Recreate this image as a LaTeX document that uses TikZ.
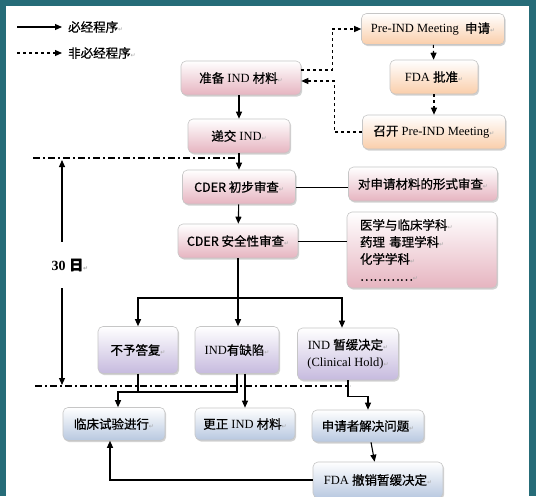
\documentclass[tikz,border=0pt]{standalone}
\usepackage{fontspec}
\setmainfont{Liberation Serif}
\newfontfamily\cjk{Noto Sans CJK SC}[FakeBold=0.8]
\newfontfamily\cjkb{Noto Sans CJK SC}[FakeBold=2]
\newfontfamily\dejavu{DejaVu Sans}
\usetikzlibrary{arrows.meta,shadows,calc}
\definecolor{frameteal}{RGB}{38,108,120}
\definecolor{pinkbot}{RGB}{230,180,192}
\definecolor{peachbot}{RGB}{250,206,170}
\definecolor{lilacbot}{RGB}{198,186,222}
\definecolor{bluebot}{RGB}{184,200,224}
\newcommand{\zh}[1]{{\cjk #1}}
\newcommand{\retmark}{{\dejavu\fontsize{6}{6}\selectfont\color{gray!70}↵}}
\tikzset{
  flow/.style={rounded corners=5pt,draw=gray!45,line width=0.6pt,
               minimum height=34pt,inner sep=2pt,align=center,
               font=\fontsize{12.5}{17}\selectfont,
               drop shadow={shadow xshift=1.2pt,shadow yshift=-1.6pt,opacity=0.35,fill=gray}},
  pinkbox/.style={flow,top color=white,bottom color=pinkbot},
  peachbox/.style={flow,top color=white,bottom color=peachbot},
  lilacbox/.style={flow,top color=white,bottom color=lilacbot},
  bluebox/.style={flow,top color=white,bottom color=bluebot},
  arr/.style={-{Triangle[length=7pt,width=6pt]},line width=1.1pt},
  darr/.style={arr,dashed},
  sepline/.style={line width=1.2pt,dash pattern=on 7pt off 3pt on 2pt off 3pt},
  legendtext/.style={anchor=west,inner xsep=6pt,font=\fontsize{12.5}{14}\selectfont},
}

\begin{document}
\begin{tikzpicture}[x=1pt,y=-1pt]
  \useasboundingbox (0,0) rectangle (536,496);
  % frame
  \fill[frameteal] (0,0) rectangle (536,496);
  \fill[white] (6,6) rectangle (529,500);

  % legend
  \coordinate (lg1) at (17,27);
  \coordinate (lg2) at (17,53);
  \node[legendtext] (must) at (62,27) {\zh{必经程序}\retmark};
  \node[legendtext] (opt) at (62,53) {\zh{非必经程序}\retmark};
  \draw[arr] (lg1) -- (must.west);
  \draw[darr] (lg2) -- (opt.west);

  % main column
  \node[pinkbox,minimum width=120pt] (prep) at (241,78) {\zh{准备} IND \zh{材料}\retmark};
  \node[pinkbox,minimum width=102pt] (submit) at (239,136) {\zh{递交} IND\retmark};
  \node[pinkbox,minimum width=113pt] (cder1) at (239,187) {\zh{CDER 初步审查}\retmark};
  \node[pinkbox,minimum width=120pt] (cder2) at (238,241) {\zh{CDER 安全性审查}\retmark};
  \node[pinkbox,minimum width=149pt] (form) at (423,184) {\zh{对申请材料的形式审查}\retmark};
  \node[pinkbox,minimum width=150pt,minimum height=76pt,text width=124pt,align=left] (disc) at (422,250)
    {\zh{医学与临床学科}\retmark\\\zh{药理 毒理学科}\retmark\\\zh{化学学科}\retmark\\\zh{…………}\retmark};

  % pre-IND meeting
  \node[peachbox,minimum width=143pt,minimum height=31pt] (preind) at (433,29) {Pre-IND Meeting\ \ \zh{申请}\retmark};
  \node[peachbox,minimum width=88pt] (fdaok) at (434,77) {FDA \zh{批准}\retmark};
  \node[peachbox,minimum width=143pt] (meet) at (434,132) {\zh{召开} Pre-IND Meeting\retmark};

  % review outcomes
  \node[lilacbox,minimum width=80pt,minimum height=47pt] (noreply) at (138,350) {\zh{不予答复}\retmark};
  \node[lilacbox,minimum width=84pt,minimum height=47pt] (defect) at (237,350) {IND\zh{有缺陷}\retmark};
  \node[lilacbox,minimum width=101pt,minimum height=52pt] (hold) at (348,354) {IND \zh{暂缓决定}\retmark\\(Clinical Hold)\retmark};

  % follow-up
  \node[bluebox,minimum width=102pt,minimum height=33pt] (trial) at (114,424) {\zh{临床试验进行}\retmark};
  \node[bluebox,minimum width=100pt,minimum height=32pt] (fix) at (245,424) {\zh{更正} IND \zh{材料}\retmark};
  \node[bluebox,minimum width=112pt,minimum height=32pt] (solve) at (368,426) {\zh{申请者解决问题}\retmark};
  \node[bluebox,minimum width=130pt,minimum height=36pt] (lift) at (378,480) {FDA \zh{撤销暂缓决定}\retmark};

  % 30 days
  \node[font=\fontsize{14}{16}\selectfont\bfseries,minimum height=46pt] (days) at (70,265) {30 {\cjkb 日}\retmark};
  \coordinate (dtop) at (62,160);
  \coordinate (dbot) at (62,385);
  \draw[arr] (dtop |- days.north) -- (dtop);
  \draw[arr] (dbot |- days.south) -- (dbot);

  % separators
  \draw[sepline] (33,158) -- (240,158);
  \draw[sepline] (35,386) -- (350,386);

  % connectors
  \draw[arr] (prep.south -| submit) -- (submit);
  \draw[arr] (submit) -- (cder1);
  \draw[arr] (cder1) -- (cder2);
  \draw[line width=1pt] (cder1.east) -- (cder1.east -| form.west);
  \draw[line width=1pt] (cder2.east) -- (cder2.east -| disc.west);
  \draw[arr] (cder2.south) -- (cder2.south |- defect.north);
  \coordinate (br) at (238,298);
  \draw[arr] (br) -| (noreply.north);
  \draw[arr] (br) -| ([xshift=-6pt]hold.north);

  \draw[darr] ([yshift=8pt]prep.east) -| ([xshift=-29pt]preind.west) -- (preind.west);
  \draw[darr] (meet.west) -- ++(-28,0) |- ([yshift=-3pt]prep.east);
  \draw[darr] (preind) -- (fdaok);
  \draw[darr] (fdaok) -- (meet);

  \coordinate (jt) at (118,392);
  \draw[arr] (noreply.south) |- (jt) -- (jt |- trial.north);
  \draw[line width=1.1pt] (defect.south) |- (jt);
  \draw[arr] (defect.south -| fix) -- (fix);
  \draw[arr] (hold.south) -- ++(0,16) -| (solve.north);
  \draw[arr] (solve) -- (lift);
  \draw[arr] (lift.west) -| ([xshift=-4pt]trial.south);
\end{tikzpicture}
\end{document}
